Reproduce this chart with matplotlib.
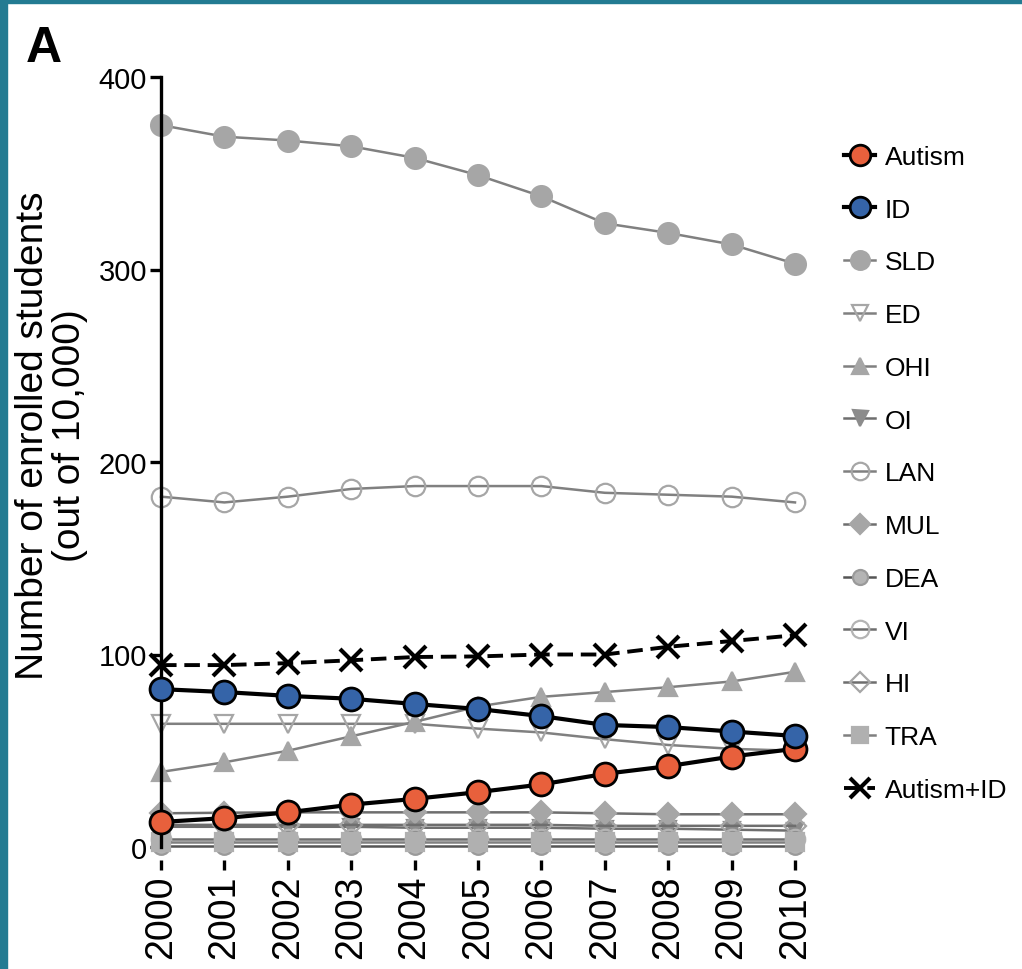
import matplotlib
matplotlib.use("Agg")
import matplotlib.pyplot as plt
from matplotlib.patches import Rectangle

plt.rcParams['font.family'] = ['Liberation Sans', 'DejaVu Sans']

years = [2000, 2001, 2002, 2003, 2004, 2005, 2006, 2007, 2008, 2009, 2010]

autism = [13, 15, 18, 22, 25, 28.5, 32.5, 38, 42, 47, 51]
intel_dis = [82, 80.5, 78.5, 77, 74.3, 71.7, 68, 63.4, 62.3, 60, 57.7]
sld = [375, 369, 367, 364, 358, 349, 338, 324, 319, 313, 303]
ed = [64, 64, 64, 64, 64, 61.5, 59.5, 56, 53, 51, 50]
ohi = [39, 44, 50, 57.5, 65, 73, 78, 80.5, 83, 86, 91]
oi = [10.5, 10.5, 10.5, 10.5, 10, 10, 10, 9.5, 9.5, 9, 8.5]
lan = [182, 179, 182, 186, 187.5, 187.5, 187.5, 184, 183, 182, 179]
mul = [17.5, 17.8, 18, 18, 18, 18, 18, 17.5, 17, 17, 17]
dea = [0.5, 0.5, 0.5, 0.5, 0.5, 0.5, 0.5, 0.5, 0.5, 0.5, 0.5]
vi = [4, 4, 4, 4, 4, 4, 4, 4, 4, 4, 4]
hi = [11.5, 11.5, 11.5, 11.5, 11.5, 11.5, 11.5, 11, 11, 11, 11]
tra = [2.5, 2.5, 2.5, 2.5, 2.5, 2.5, 2.5, 2.5, 2.5, 2.5, 2.5]
autism_id = [94.5, 94.5, 95.5, 97, 98.7, 99, 100, 100, 104, 107, 110]

fig = plt.figure(figsize=(10.22, 9.70), dpi=100)
ax = fig.add_axes([161/1022, 1-848/970, (795-161)/1022, (848-78)/970])

LG = '#808080'
MG = '#a6a6a6'

def gline(y, marker, label, mfc, mec, ms=12, color=LG, lw=1.8, z=2):
    ax.plot(years, y, color=color, lw=lw, marker=marker, ms=ms, mfc=mfc,
            mec=mec, mew=1.6, label=label, clip_on=False, zorder=z)

# gray series
gline(sld, 'o', 'SLD', MG, MG, ms=15)
gline(ed, 'v', 'ED', 'none', MG, ms=13)
gline(ohi, '^', 'OHI', MG, MG, ms=13)
gline(oi, 'v', 'OI', '#8c8c8c', '#8c8c8c', ms=12, color='#6e6e6e')
gline(lan, 'o', 'LAN', 'none', MG, ms=14)
gline(mul, 'D', 'MUL', MG, MG, ms=11, color='#6e6e6e')
gline(dea, 'o', 'DEA', '#b4b4b4', '#9a9a9a', ms=12, color='#555555')
gline(vi, 'o', 'VI', 'none', '#b4b4b4', ms=14, color='#6e6e6e')
gline(hi, 'D', 'HI', 'none', MG, ms=11, color='#6e6e6e')
gline(tra, 's', 'TRA', '#b0b0b0', '#b0b0b0', ms=13)

ax.plot(years, autism, color='black', lw=3, marker='o', ms=16.5, mfc='#e8603c',
        mec='black', mew=2, label='Autism', clip_on=False, zorder=5)
ax.plot(years, intel_dis, color='black', lw=3, marker='o', ms=16.5, mfc='#3564a8',
        mec='black', mew=2, label='ID', clip_on=False, zorder=5)
ax.plot(years, autism_id, color='black', lw=2.8, ls=(0, (4, 2)), marker='x', ms=16,
        mec='black', mew=3, label='Autism+ID', clip_on=False, zorder=5)

ax.set_xlim(2000, 2010)
ax.set_ylim(0, 400)
ax.set_yticks([0, 100, 200, 300, 400])
ax.set_xticks(years)
ax.set_xticklabels([str(y) for y in years])

for s in ['top', 'right']:
    ax.spines[s].set_visible(False)
ax.spines['left'].set_linewidth(2.4)
ax.spines['bottom'].set_position(('outward', 9))
ax.spines['bottom'].set_visible(False)
ax.tick_params(axis='y', direction='out', length=8, width=2.4, labelsize=21, pad=2)
ax.tick_params(axis='x', direction='out', length=7, width=2.4, labelsize=27, pad=4,
               labelrotation=90)

ax.set_ylabel('Number of enrolled students\n(out of 10,000)', fontsize=28,
              linespacing=1.0, labelpad=8)
ax.yaxis.label.set_y(0.535)

order = ['Autism', 'ID', 'SLD', 'ED', 'OHI', 'OI', 'LAN', 'MUL', 'DEA', 'VI', 'HI', 'TRA', 'Autism+ID']
handles, labels = ax.get_legend_handles_labels()
hmap = dict(zip(labels, handles))
fig.legend([hmap[k] for k in order], order, loc='upper left',
           bbox_to_anchor=(820/1022, 1-122/970), frameon=False, fontsize=19,
           handlelength=1.2, handletextpad=0.35, labelspacing=1.09, markerscale=0.9)

fig.text(26/1022, 1-62/970, 'A', fontsize=36, fontweight='bold')

fig.patches.append(Rectangle((0, 0), 7/1022, 1, transform=fig.transFigure,
                             color='#237b92', zorder=10))
fig.patches.append(Rectangle((0, 1-4/970), 1, 4/970, transform=fig.transFigure,
                             color='#237b92', zorder=10))

fig.savefig('out.png', dpi=100)
